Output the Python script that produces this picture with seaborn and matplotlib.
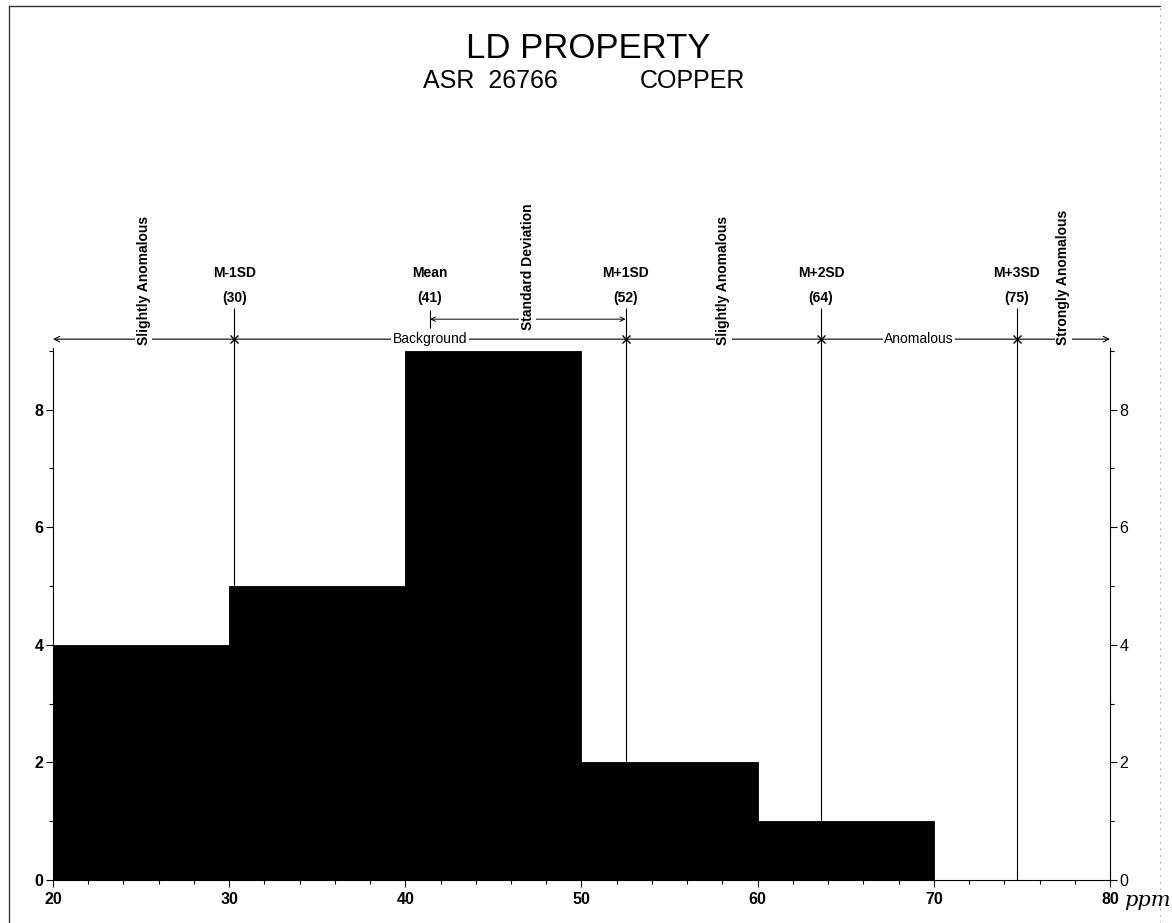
import matplotlib
matplotlib.use("Agg")
import matplotlib.pyplot as plt
import seaborn as sns
import numpy as np
from matplotlib.lines import Line2D

# Histogram of copper values (ppm)
bin_edges = [20, 30, 40, 50, 60, 70, 80]
counts = [4, 5, 9, 2, 1, 0]

# Summary statistics
mean_ppm = 41.4
sd_ppm = 11.1
stat_names = ["M-1SD", "Mean", "M+1SD", "M+2SD", "M+3SD"]
stat_offsets = [-1, 0, 1, 2, 3]

title = "LD PROPERTY"
subtitle_left = "ASR  26766"
subtitle_right = "COPPER"
unit_note = "ppm"

sns.set_theme(style="white")
plt.rcParams["font.family"] = ["Liberation Sans", "DejaVu Sans"]
plt.rcParams["text.color"] = "black"
plt.rcParams["axes.labelcolor"] = "black"
plt.rcParams["xtick.color"] = "black"
plt.rcParams["ytick.color"] = "black"

fig = plt.figure(figsize=(11.72, 9.23), dpi=100)
ax = fig.add_axes([0.0452, 0.0466, 0.9019, 0.5764])

edges = np.array(bin_edges, dtype=float)
centers = (edges[:-1] + edges[1:]) / 2
sns.histplot(x=centers, weights=counts, bins=bin_edges, color="black",
             alpha=1.0, edgecolor="black", linewidth=0.6, ax=ax)

ax.set_xlim(20, 80)
ax.set_ylim(0, 9.05)
ax.set_xlabel("")
ax.set_ylabel("")

for side in ["left", "bottom", "right"]:
    ax.spines[side].set_visible(True)
    ax.spines[side].set_color("black")
    ax.spines[side].set_linewidth(0.8)
ax.spines["top"].set_visible(False)

ax.set_xticks(range(20, 81, 10))
ax.set_xticks(range(20, 81, 2), minor=True)
ax.set_yticks([0, 2, 4, 6, 8])
ax.set_yticks([1, 3, 5, 7, 9], minor=True)
ax.tick_params(axis="both", which="both", direction="out", color="black",
               width=0.8)
ax.tick_params(axis="both", which="major", length=5, labelsize=11.5)
ax.tick_params(axis="both", which="minor", length=3)
ax.tick_params(axis="y", which="both", left=True, right=True,
               labelleft=True, labelright=True, pad=2)
ax.tick_params(axis="x", which="both", bottom=True, pad=4)
for lbl in ax.get_xticklabels():
    lbl.set_fontweight("bold")
for tick in ax.yaxis.get_major_ticks():
    tick.label1.set_fontweight("bold")

# Statistic positions
stat_vals = [mean_ppm + k * sd_ppm for k in stat_offsets]
line_y = 9.2
lw = 0.8

# Range line with open arrowheads at both ends
ax.annotate("", xy=(20, line_y), xytext=(80, line_y), xycoords="data",
            arrowprops=dict(arrowstyle="<->", lw=lw, color="black",
                            shrinkA=0, shrinkB=0, mutation_scale=10),
            annotation_clip=False)

# Vertical statistic lines and cross markers
for name, val in zip(stat_names, stat_vals):
    if name == "Mean":
        ax.vlines(val, 9.39, 9.70, color="black", lw=lw, clip_on=False)
    else:
        ax.vlines(val, 0, 9.73, color="black", lw=lw, clip_on=False, zorder=3)
        ax.plot([val], [line_y], marker="x", color="black", ms=6, mew=1.0,
                clip_on=False, zorder=4)
    ax.text(val, 10.33, name, ha="center", va="center", fontsize=10,
            fontweight="bold", clip_on=False)
    ax.text(val, 9.90, f"({val:.0f})", ha="center", va="center", fontsize=10,
            fontweight="bold", clip_on=False)

# Standard deviation span
ax.annotate("", xy=(stat_vals[2], 9.54), xytext=(stat_vals[1], 9.54),
            xycoords="data",
            arrowprops=dict(arrowstyle="<->", lw=0.7, color="black",
                            shrinkA=0, shrinkB=0, mutation_scale=8),
            annotation_clip=False)

white_box = dict(facecolor="white", edgecolor="none", pad=1.0)

# Horizontal zone labels
ax.text((stat_vals[0] + stat_vals[2]) / 2, line_y, "Background", ha="center",
        va="center", fontsize=10, bbox=white_box, clip_on=False, zorder=5)
ax.text((stat_vals[3] + stat_vals[4]) / 2, line_y, "Anomalous", ha="center",
        va="center", fontsize=10, bbox=white_box, clip_on=False, zorder=5)

# Vertical zone labels
vertical_labels = [
    ((20 + stat_vals[0]) / 2, 9.10, "Slightly Anomalous"),
    ((stat_vals[1] + stat_vals[2]) / 2, 9.36, "Standard Deviation"),
    ((stat_vals[2] + stat_vals[3]) / 2, 9.10, "Slightly Anomalous"),
    ((stat_vals[4] + 80) / 2, 9.10, "Strongly Anomalous"),
]
for x, y, s in vertical_labels:
    ax.text(x, y, s, rotation=90, ha="center", va="bottom", fontsize=10,
            fontweight="bold", bbox=white_box, clip_on=False, zorder=5)

# Titles
fig.text(0.502, 0.937, title, ha="center", va="baseline", fontsize=25)
fig.text(0.361, 0.9047, subtitle_left, ha="left", va="baseline", fontsize=18)
fig.text(0.546, 0.9047, subtitle_right, ha="left", va="baseline", fontsize=18)

# Unit note next to the axis end
fig.text(0.979, 0.024, unit_note, ha="center", va="center", fontsize=15,
         family=["DejaVu Serif"], style="italic")

# Page frame
fig.add_artist(Line2D([0.008, 0.99], [0.994, 0.994], transform=fig.transFigure,
                      color="#333333", lw=1.0))
fig.add_artist(Line2D([0.008, 0.008], [0.0, 0.994], transform=fig.transFigure,
                      color="#333333", lw=1.0))
fig.add_artist(Line2D([0.99, 0.99], [0.0, 0.994], transform=fig.transFigure,
                      color="#999999", lw=0.6, linestyle=(0, (2, 6))))

fig.savefig("out.png", dpi=100, facecolor="white")
